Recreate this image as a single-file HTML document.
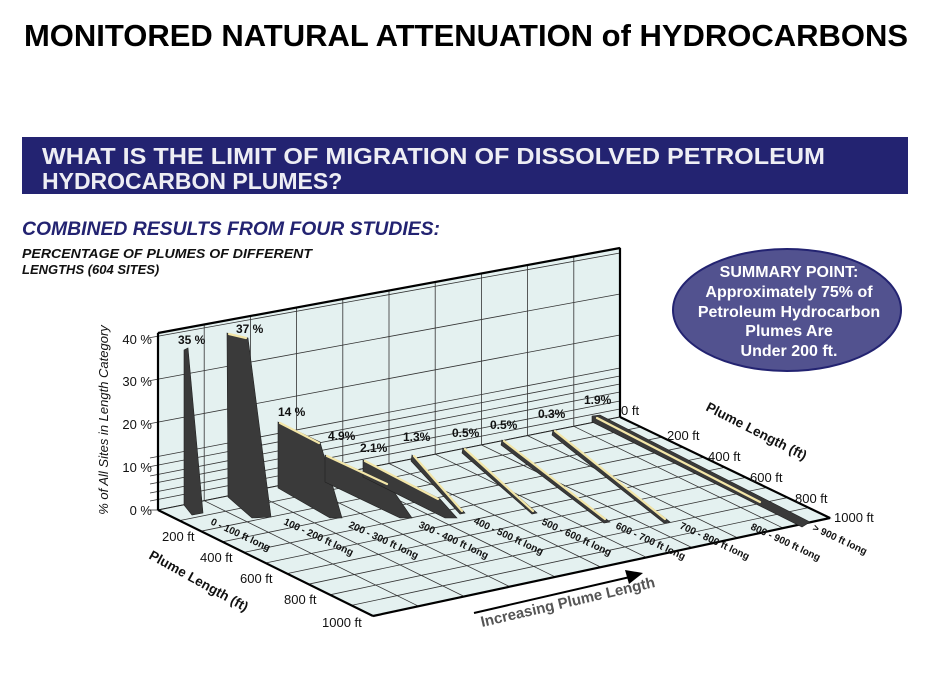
<!DOCTYPE html>
<html><head><meta charset="utf-8"><style>
html,body{margin:0;padding:0;background:#fff;}
body{width:933px;height:700px;overflow:hidden;position:relative;font-family:"Liberation Sans",sans-serif;}
</style></head><body>
<svg width="933" height="700" viewBox="0 0 933 700" xmlns="http://www.w3.org/2000/svg" style="position:absolute;left:0;top:0">
<text x="466" y="46" text-anchor="middle" font-family="Liberation Sans" font-weight="bold" font-size="30.5" fill="#000" textLength="884" lengthAdjust="spacingAndGlyphs">MONITORED NATURAL ATTENUATION of HYDROCARBONS</text>
<rect x="22" y="137" width="886" height="57" fill="#232371"/>
<text x="42" y="164" font-family="Liberation Sans" font-weight="bold" font-size="23" fill="#eeeef4" textLength="783" lengthAdjust="spacingAndGlyphs">WHAT IS THE LIMIT OF MIGRATION OF DISSOLVED PETROLEUM</text>
<text x="42" y="189" font-family="Liberation Sans" font-weight="bold" font-size="23" fill="#eeeef4">HYDROCARBON PLUMES?</text>
<text x="22" y="235" font-family="Liberation Sans" font-weight="bold" font-style="italic" font-size="19" fill="#232371" textLength="418" lengthAdjust="spacingAndGlyphs">COMBINED RESULTS FROM FOUR STUDIES:</text>
<text x="22" y="258" font-family="Liberation Sans" font-weight="bold" font-style="italic" font-size="13" fill="#111" textLength="290" lengthAdjust="spacingAndGlyphs">PERCENTAGE OF PLUMES OF DIFFERENT</text>
<text x="22" y="274" font-family="Liberation Sans" font-weight="bold" font-style="italic" font-size="13" fill="#111">LENGTHS (604 SITES)</text>

<polygon points="158,333 620,248 620,417 158,510" fill="#e4f1f0" stroke="#222" stroke-width="1"/>
<polygon points="158,510 620,417 830,518 373,616" fill="#e4f1f0" stroke="#222" stroke-width="1"/>
<g stroke="#333" stroke-width="0.8" fill="none">
<line x1="148" y1="467" x2="620" y2="376"/><line x1="148" y1="424" x2="620" y2="335"/>
<line x1="148" y1="381" x2="620" y2="294"/><line x1="148" y1="338" x2="620" y2="253"/>
<line x1="148" y1="510" x2="158" y2="510"/>
<line x1="150" y1="501" x2="620" y2="409"/><line x1="150" y1="493" x2="620" y2="401"/>
<line x1="150" y1="484" x2="620" y2="392"/><line x1="150" y1="476" x2="620" y2="384"/>
<line x1="150" y1="458" x2="620" y2="368"/>
<line x1="204.2" y1="324.5" x2="204.2" y2="500.7"/><line x1="250.4" y1="316" x2="250.4" y2="491.4"/>
<line x1="296.6" y1="307.5" x2="296.6" y2="482.1"/><line x1="342.8" y1="299" x2="342.8" y2="472.8"/>
<line x1="389" y1="290.5" x2="389" y2="463.5"/><line x1="435.2" y1="282" x2="435.2" y2="454.2"/>
<line x1="481.4" y1="273.5" x2="481.4" y2="444.9"/><line x1="527.6" y1="265" x2="527.6" y2="435.6"/>
<line x1="573.8" y1="256.5" x2="573.8" y2="426.3"/>
<line x1="179.5" y1="520.6" x2="640.8" y2="427.1"/><line x1="201" y1="531.2" x2="661.6" y2="437.2"/>
<line x1="222.5" y1="541.8" x2="682.4" y2="447.3"/><line x1="244" y1="552.4" x2="703.2" y2="457.4"/>
<line x1="265.5" y1="563" x2="724" y2="467.5"/><line x1="287" y1="573.6" x2="744.8" y2="477.6"/>
<line x1="308.5" y1="584.2" x2="765.6" y2="487.7"/><line x1="330" y1="594.8" x2="786.4" y2="497.8"/>
<line x1="351.5" y1="605.4" x2="807.2" y2="507.9"/>
<line x1="204.2" y1="500.7" x2="418.5" y2="606.2"/><line x1="250.4" y1="491.4" x2="464" y2="596.4"/>
<line x1="296.6" y1="482.1" x2="509.5" y2="586.6"/><line x1="342.8" y1="472.8" x2="555" y2="576.8"/>
<line x1="389" y1="463.5" x2="600.5" y2="567"/><line x1="435.2" y1="454.2" x2="646" y2="557.2"/>
<line x1="481.4" y1="444.9" x2="691.5" y2="547.4"/><line x1="527.6" y1="435.6" x2="737" y2="537.6"/>
<line x1="573.8" y1="426.3" x2="782.5" y2="527.8"/>
</g>
<g stroke="#000" stroke-width="2.2" fill="none">
<line x1="158" y1="333" x2="620" y2="248"/>
<line x1="620" y1="248" x2="620" y2="417"/>
<line x1="158" y1="333" x2="158" y2="510"/>
<line x1="158" y1="510" x2="373" y2="616"/>
<line x1="620" y1="417" x2="830" y2="518"/>
<line x1="373" y1="616" x2="830" y2="518"/>
</g>

<g fill="#3a3a3a" stroke="#222" stroke-width="0.6">
<polygon points="184,350 188,348 203,513 192,515 184,505"/>
<polygon points="227,333 248,338 271,517 252,518 228,497"/>
<polygon points="278,422 320,442 342,518 330,518 278,488"/>
<polygon points="325,455 388,483 412,518 400,518 325,482"/>
<polygon points="363,460 440,499 457,518 445,518 363,477"/>
<polygon points="412,455 465,513 460,514 411,461"/>
<polygon points="463,448 537,513 532,514 462,453"/>
<polygon points="502,440 610,522 604,523 501,445"/>
<polygon points="553,430 670,522 664,523 552,435"/>
<polygon points="592,416 600,415 810,522 802,527 592,422"/>
</g>
<g stroke="#f3e6a8" stroke-width="2.2" fill="none" stroke-linecap="round">
<line x1="229" y1="334" x2="246" y2="338"/>
<line x1="280" y1="423" x2="319" y2="443"/>
<line x1="327" y1="456" x2="387" y2="484"/>
<line x1="365" y1="461" x2="438" y2="499"/>
<line x1="414" y1="456" x2="462" y2="511"/>
<line x1="465" y1="449" x2="533" y2="511"/>
<line x1="504" y1="441" x2="605" y2="519"/>
<line x1="555" y1="431" x2="665" y2="519"/>
<line x1="597" y1="418" x2="760" y2="502"/>
</g>

<g font-family="Liberation Sans" font-weight="bold" font-size="12" fill="#111">
<text x="178" y="344">35 %</text><text x="236" y="333">37 %</text>
<text x="278" y="416">14 %</text><text x="328" y="440">4.9%</text>
<text x="360" y="452">2.1%</text><text x="403" y="441">1.3%</text>
<text x="452" y="437">0.5%</text><text x="490" y="429">0.5%</text>
<text x="538" y="418">0.3%</text><text x="584" y="404">1.9%</text>
</g>

<g font-family="Liberation Sans" font-size="13" fill="#111" text-anchor="end">
<text x="152" y="344">40 %</text><text x="152" y="386">30 %</text>
<text x="152" y="429">20 %</text><text x="152" y="472">10 %</text>
<text x="152" y="515">0 %</text>
</g>
<text transform="translate(108,420) rotate(-90)" text-anchor="middle" font-family="Liberation Sans" font-style="italic" font-size="13" fill="#111">% of All Sites in Length Category</text>

<g font-family="Liberation Sans" font-size="13" fill="#111">
<text x="162" y="541">200 ft</text><text x="200" y="562">400 ft</text>
<text x="240" y="583">600 ft</text><text x="284" y="604">800 ft</text>
<text x="322" y="627">1000 ft</text>
<text x="621" y="415">0 ft</text><text x="667" y="440">200 ft</text>
<text x="708" y="461">400 ft</text><text x="750" y="482">600 ft</text>
<text x="795" y="503">800 ft</text><text x="834" y="522">1000 ft</text>
</g>
<text transform="translate(148,558) rotate(29)" font-family="Liberation Sans" font-weight="bold" font-size="13.5" fill="#111">Plume Length (ft)</text>
<text transform="translate(705,410) rotate(27)" font-family="Liberation Sans" font-weight="bold" font-size="13.5" fill="#111">Plume Length (ft)</text>

<g font-family="Liberation Sans" font-weight="bold" font-size="10" fill="#111">
<text transform="translate(210,524) rotate(25)">0 - 100 ft long</text>
<text transform="translate(283,524) rotate(25)">100 - 200 ft long</text>
<text transform="translate(348,527) rotate(25)">200 - 300 ft long</text>
<text transform="translate(418,527) rotate(25)">300 - 400 ft long</text>
<text transform="translate(473,523) rotate(25)">400 - 500 ft long</text>
<text transform="translate(541,524) rotate(25)">500 - 600 ft long</text>
<text transform="translate(615,528) rotate(25)">600 - 700 ft long</text>
<text transform="translate(679,528) rotate(25)">700 - 800 ft long</text>
<text transform="translate(750,529) rotate(25)">800 - 900 ft long</text>
<text transform="translate(812,530) rotate(25)">&gt; 900 ft long</text>
</g>

<line x1="474" y1="613" x2="630" y2="577" stroke="#000" stroke-width="2"/>
<polygon points="643,573 625,570 629,584" fill="#000"/>
<text transform="translate(482,627) rotate(-13)" font-family="Liberation Sans" font-weight="bold" font-size="15" fill="#555">Increasing Plume Length</text>

<ellipse cx="787" cy="310" rx="114" ry="61" fill="#52528f" stroke="#232371" stroke-width="2"/>
<g font-family="Liberation Sans" font-weight="bold" font-size="16" fill="#fff" text-anchor="middle">
<text x="789" y="277">SUMMARY POINT:</text>
<text x="789" y="297">Approximately 75% of</text>
<text x="789" y="317">Petroleum Hydrocarbon</text>
<text x="789" y="336">Plumes Are</text>
<text x="789" y="356">Under 200 ft.</text>
</g>
</svg>
</body></html>
